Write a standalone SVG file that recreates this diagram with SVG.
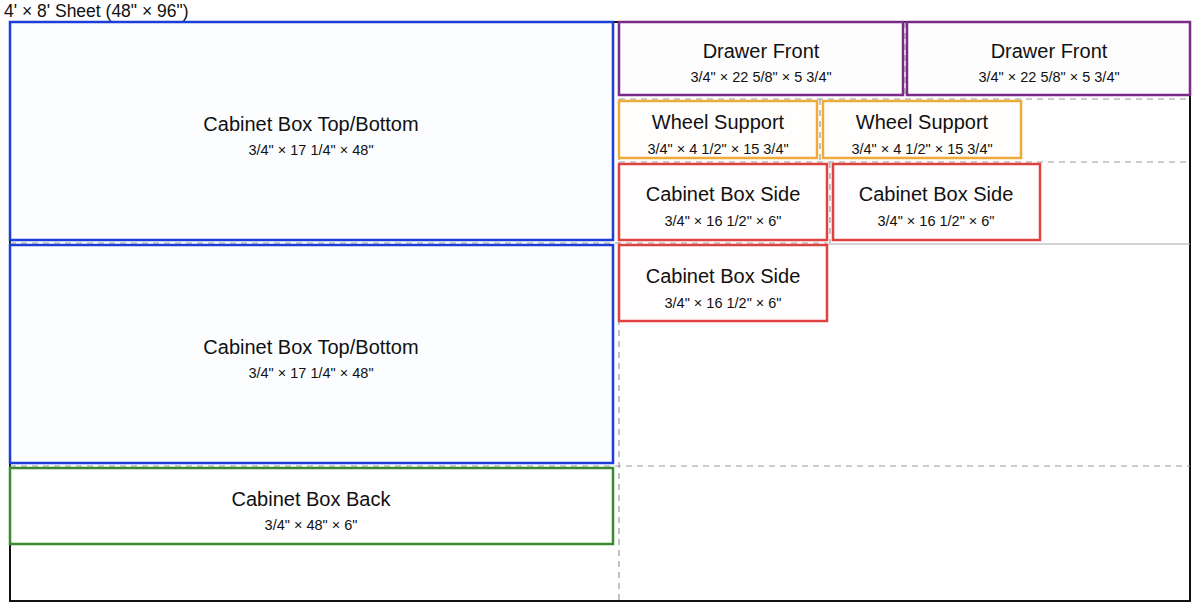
<svg xmlns="http://www.w3.org/2000/svg" width="1200" height="608" viewBox="0 0 1200 608">
<style>
text{font-family:"Liberation Sans",Arial,sans-serif;fill:#111;text-anchor:middle}
.t{font-size:20px}
.d{font-size:14.5px}
.cut{stroke:#999;stroke-width:1.2;stroke-dasharray:6 5;fill:none}
.blue{stroke:#1c3ed8;stroke-width:2.5;fill:#fbfdfe}
.green{stroke:#3b8a2e;stroke-width:2.5;fill:#fdfefd}
.purple{stroke:#7b2a8a;stroke-width:2.5;fill:#fefdfe}
.orange{stroke:#eeab3c;stroke-width:2.5;fill:#fffefc}
.red{stroke:#e04242;stroke-width:2.5;fill:#fffdfd}
</style>
<rect width="1200" height="608" fill="#ffffff"/>
<text x="4" y="17" style="font-size:17.5px;text-anchor:start">4' × 8' Sheet (48" × 96")</text>
<g id="sheet"><rect x="10" y="22" width="1180" height="579" fill="#fefefe" stroke="#111" stroke-width="2"/></g>
<g id="connectors">
<line class="cut" x1="619" y1="22" x2="619" y2="601"/>
<line class="cut" x1="10" y1="243" x2="827" y2="243"/>
<line class="cut" x1="10" y1="466" x2="1190" y2="466"/>
<line class="cut" x1="619" y1="99" x2="1190" y2="99"/>
<line class="cut" x1="619" y1="162" x2="1190" y2="162"/>
<line class="cut" x1="905" y1="22" x2="905" y2="99"/>
<line class="cut" x1="820" y1="99" x2="820" y2="162"/>
<line class="cut" x1="830" y1="162" x2="830" y2="243"/>
<line x1="827" y1="244" x2="1190" y2="244" stroke="#aaa" stroke-width="1.2"/>
</g>
<g id="top-bottom-1"><rect class="blue" x="10" y="22" width="603" height="218"/>
<text class="t" x="311" y="131">Cabinet Box Top/Bottom</text><text class="d" x="311" y="155">3/4" × 17 1/4" × 48"</text></g>
<g id="top-bottom-2"><rect class="blue" x="10" y="245" width="603" height="218"/>
<text class="t" x="311" y="354">Cabinet Box Top/Bottom</text><text class="d" x="311" y="378">3/4" × 17 1/4" × 48"</text></g>
<g id="box-back"><rect class="green" x="10" y="468" width="603" height="76"/>
<text class="t" x="311" y="506">Cabinet Box Back</text><text class="d" x="311" y="530">3/4" × 48" × 6"</text></g>
<g id="drawer-front-1"><rect class="purple" x="619" y="22" width="284" height="73"/>
<text class="t" x="761" y="58">Drawer Front</text><text class="d" x="761" y="82">3/4" × 22 5/8" × 5 3/4"</text></g>
<g id="drawer-front-2"><rect class="purple" x="907" y="22" width="283" height="73"/>
<text class="t" x="1049" y="58">Drawer Front</text><text class="d" x="1049" y="82">3/4" × 22 5/8" × 5 3/4"</text></g>
<g id="wheel-support-1"><rect class="orange" x="619" y="101" width="198" height="57"/>
<text class="t" x="718" y="129">Wheel Support</text><text class="d" x="718" y="154">3/4" × 4 1/2" × 15 3/4"</text></g>
<g id="wheel-support-2"><rect class="orange" x="823" y="101" width="198" height="57"/>
<text class="t" x="922" y="129">Wheel Support</text><text class="d" x="922" y="154">3/4" × 4 1/2" × 15 3/4"</text></g>
<g id="box-side-1"><rect class="red" x="619" y="164" width="208" height="76"/>
<text class="t" x="723" y="201">Cabinet Box Side</text><text class="d" x="723" y="226">3/4" × 16 1/2" × 6"</text></g>
<g id="box-side-2"><rect class="red" x="833" y="164" width="207" height="76"/>
<text class="t" x="936" y="201">Cabinet Box Side</text><text class="d" x="936" y="226">3/4" × 16 1/2" × 6"</text></g>
<g id="box-side-3"><rect class="red" x="619" y="245" width="208" height="76"/>
<text class="t" x="723" y="283">Cabinet Box Side</text><text class="d" x="723" y="308">3/4" × 16 1/2" × 6"</text></g>
</svg>
